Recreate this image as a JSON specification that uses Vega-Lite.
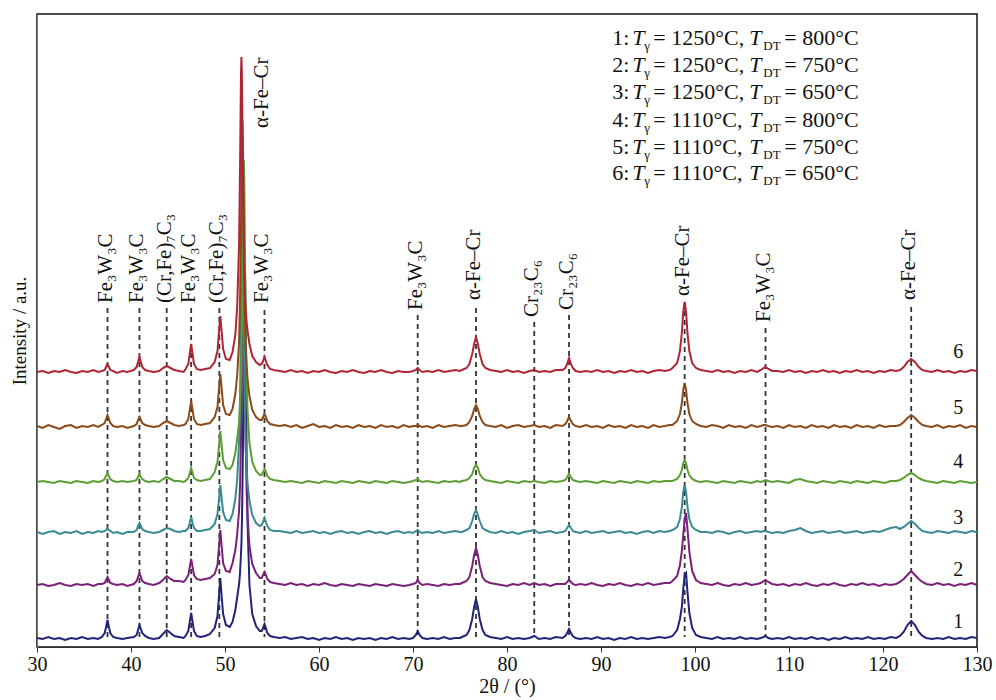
{
  "$schema": "https://vega.github.io/schema/vega-lite/v6.json",
  "width": 940,
  "height": 633,
  "autosize": {"type": "none"},
  "padding": {"left": 37, "top": 14, "right": 19, "bottom": 53},
  "background": "white",
  "config": {
    "view": {"stroke": "#111111", "strokeWidth": 1.5},
    "axis": {"labelFont": "Liberation Serif", "titleFont": "Liberation Serif", "grid": false}
  },
  "datasets": {
    "xrd": [
      {"x":30.0,"s1":9,"s2":62,"s3":115,"s4":165,"s5":221,"s6":275},
      {"x":30.6,"s1":8,"s2":63,"s3":113,"s4":166,"s5":219,"s6":276},
      {"x":31.2,"s1":10,"s2":61,"s3":115,"s4":165,"s5":222,"s6":274},
      {"x":31.8,"s1":8,"s2":62,"s3":116,"s4":164,"s5":220,"s6":276},
      {"x":32.4,"s1":9,"s2":64,"s3":113,"s4":166,"s5":218,"s6":275},
      {"x":33.0,"s1":7,"s2":62,"s3":115,"s4":165,"s5":221,"s6":277},
      {"x":33.6,"s1":9,"s2":61,"s3":114,"s4":164,"s5":222,"s6":275},
      {"x":34.2,"s1":8,"s2":63,"s3":116,"s4":166,"s5":219,"s6":274},
      {"x":34.8,"s1":10,"s2":62,"s3":113,"s4":165,"s5":221,"s6":276},
      {"x":35.4,"s1":8,"s2":63,"s3":115,"s4":164,"s5":220,"s6":275},
      {"x":36.0,"s1":9,"s2":61,"s3":114,"s4":166,"s5":222,"s6":277},
      {"x":36.5,"s1":8,"s2":63,"s3":116,"s4":165,"s5":220,"s6":275},
      {"x":36.9,"s1":10,"s2":63,"s3":115,"s4":166,"s5":222,"s6":276},
      {"x":37.2,"s1":14,"s2":64,"s3":116,"s4":168,"s5":224,"s6":277},
      {"x":37.35,"s1":20,"s2":67,"s3":117,"s4":171,"s5":228,"s6":280},
      {"x":37.5,"s1":27,"s2":70,"s3":119,"s4":174,"s5":232,"s6":283},
      {"x":37.65,"s1":20,"s2":67,"s3":117,"s4":171,"s5":228,"s6":280},
      {"x":37.8,"s1":14,"s2":64,"s3":116,"s4":168,"s5":224,"s6":277},
      {"x":38.1,"s1":10,"s2":63,"s3":114,"s4":166,"s5":221,"s6":276},
      {"x":38.5,"s1":9,"s2":62,"s3":115,"s4":165,"s5":220,"s6":274},
      {"x":39.1,"s1":8,"s2":63,"s3":113,"s4":166,"s5":221,"s6":276},
      {"x":39.6,"s1":9,"s2":61,"s3":115,"s4":165,"s5":219,"s6":275},
      {"x":40.3,"s1":10,"s2":63,"s3":115,"s4":166,"s5":221,"s6":277},
      {"x":40.6,"s1":12,"s2":66,"s3":117,"s4":167,"s5":223,"s6":280},
      {"x":40.75,"s1":17,"s2":70,"s3":121,"s4":170,"s5":227,"s6":285},
      {"x":40.9,"s1":22,"s2":74,"s3":124,"s4":173,"s5":230,"s6":290},
      {"x":41.05,"s1":18,"s2":70,"s3":121,"s4":170,"s5":227,"s6":285},
      {"x":41.2,"s1":14,"s2":66,"s3":118,"s4":168,"s5":224,"s6":280},
      {"x":41.5,"s1":11,"s2":64,"s3":116,"s4":166,"s5":222,"s6":277},
      {"x":41.9,"s1":9,"s2":63,"s3":115,"s4":165,"s5":221,"s6":276},
      {"x":42.4,"s1":8,"s2":62,"s3":114,"s4":166,"s5":220,"s6":275},
      {"x":43.0,"s1":9,"s2":64,"s3":115,"s4":165,"s5":221,"s6":276},
      {"x":43.4,"s1":13,"s2":67,"s3":117,"s4":168,"s5":224,"s6":279},
      {"x":43.8,"s1":17,"s2":71,"s3":119,"s4":170,"s5":226,"s6":281},
      {"x":44.2,"s1":14,"s2":68,"s3":118,"s4":168,"s5":224,"s6":279},
      {"x":44.6,"s1":11,"s2":66,"s3":116,"s4":166,"s5":222,"s6":277},
      {"x":45.1,"s1":10,"s2":66,"s3":115,"s4":166,"s5":221,"s6":276},
      {"x":45.6,"s1":9,"s2":65,"s3":116,"s4":165,"s5":222,"s6":275},
      {"x":45.8,"s1":11,"s2":67,"s3":116,"s4":166,"s5":223,"s6":278},
      {"x":46.1,"s1":16,"s2":72,"s3":119,"s4":169,"s5":228,"s6":283},
      {"x":46.25,"s1":25,"s2":80,"s3":124,"s4":174,"s5":237,"s6":293},
      {"x":46.4,"s1":34,"s2":88,"s3":130,"s4":179,"s5":246,"s6":303},
      {"x":46.55,"s1":25,"s2":80,"s3":124,"s4":174,"s5":237,"s6":293},
      {"x":46.7,"s1":16,"s2":72,"s3":119,"s4":169,"s5":228,"s6":283},
      {"x":47.0,"s1":11,"s2":68,"s3":116,"s4":167,"s5":223,"s6":278},
      {"x":47.4,"s1":10,"s2":67,"s3":116,"s4":166,"s5":222,"s6":277},
      {"x":47.9,"s1":11,"s2":68,"s3":117,"s4":167,"s5":223,"s6":278},
      {"x":48.4,"s1":13,"s2":69,"s3":118,"s4":168,"s5":224,"s6":279},
      {"x":48.9,"s1":19,"s2":73,"s3":123,"s4":175,"s5":230,"s6":285},
      {"x":49.2,"s1":31,"s2":82,"s3":133,"s4":185,"s5":240,"s6":296},
      {"x":49.35,"s1":50,"s2":99,"s3":147,"s4":200,"s5":257,"s6":314},
      {"x":49.5,"s1":69,"s2":117,"s3":162,"s4":216,"s5":273,"s6":331},
      {"x":49.65,"s1":50,"s2":100,"s3":148,"s4":201,"s5":258,"s6":315},
      {"x":49.8,"s1":33,"s2":84,"s3":135,"s4":187,"s5":242,"s6":298},
      {"x":50.1,"s1":22,"s2":76,"s3":127,"s4":179,"s5":233,"s6":288},
      {"x":50.5,"s1":20,"s2":75,"s3":126,"s4":178,"s5":232,"s6":287},
      {"x":50.8,"s1":25,"s2":84,"s3":133,"s4":182,"s5":238,"s6":295},
      {"x":51.1,"s1":37,"s2":97,"s3":148,"s4":194,"s5":253,"s6":312},
      {"x":51.3,"s1":50,"s2":113,"s3":168,"s4":208,"s5":272,"s6":341},
      {"x":51.5,"s1":63,"s2":137,"s3":206,"s4":225,"s5":306,"s6":404},
      {"x":51.6,"s1":74,"s2":161,"s3":249,"s4":243,"s5":346,"s6":479},
      {"x":51.7,"s1":93,"s2":207,"s3":327,"s4":270,"s5":417,"s6":573},
      {"x":51.75,"s1":104,"s2":242,"s3":379,"s4":291,"s5":465,"s6":590},
      {"x":51.8,"s1":125,"s2":294,"s3":425,"s4":324,"s5":507,"s6":570},
      {"x":51.85,"s1":154,"s2":356,"s3":447,"s4":368,"s5":527,"s6":526},
      {"x":51.9,"s1":193,"s2":408,"s3":425,"s4":422,"s5":507,"s6":474},
      {"x":51.95,"s1":246,"s2":432,"s3":379,"s4":466,"s5":465,"s6":431},
      {"x":52.0,"s1":310,"s2":408,"s3":324,"s4":487,"s5":414,"s6":399},
      {"x":52.05,"s1":363,"s2":356,"s3":278,"s4":466,"s5":372,"s6":375},
      {"x":52.1,"s1":388,"s2":294,"s3":244,"s4":422,"s5":341,"s6":358},
      {"x":52.15,"s1":363,"s2":242,"s3":219,"s4":368,"s5":318,"s6":346},
      {"x":52.2,"s1":310,"s2":204,"s3":201,"s4":324,"s5":301,"s6":338},
      {"x":52.3,"s1":193,"s2":156,"s3":179,"s4":267,"s5":282,"s6":325},
      {"x":52.4,"s1":124,"s2":131,"s3":164,"s4":237,"s5":268,"s6":316},
      {"x":52.6,"s1":62,"s2":101,"s3":146,"s4":204,"s5":251,"s6":303},
      {"x":52.9,"s1":33,"s2":83,"s3":132,"s4":185,"s5":237,"s6":291},
      {"x":53.3,"s1":21,"s2":74,"s3":124,"s4":176,"s5":230,"s6":285},
      {"x":53.7,"s1":16,"s2":69,"s3":121,"s4":172,"s5":227,"s6":282},
      {"x":53.9,"s1":16,"s2":69,"s3":122,"s4":172,"s5":227,"s6":283},
      {"x":54.05,"s1":19,"s2":72,"s3":125,"s4":175,"s5":230,"s6":286},
      {"x":54.2,"s1":23,"s2":75,"s3":129,"s4":178,"s5":233,"s6":290},
      {"x":54.35,"s1":19,"s2":72,"s3":125,"s4":175,"s5":230,"s6":286},
      {"x":54.5,"s1":14,"s2":68,"s3":121,"s4":171,"s5":226,"s6":282},
      {"x":54.8,"s1":11,"s2":65,"s3":117,"s4":168,"s5":223,"s6":278},
      {"x":55.2,"s1":10,"s2":64,"s3":116,"s4":167,"s5":222,"s6":277},
      {"x":55.8,"s1":9,"s2":63,"s3":116,"s4":166,"s5":221,"s6":276},
      {"x":56.4,"s1":10,"s2":62,"s3":115,"s4":165,"s5":222,"s6":275},
      {"x":57.0,"s1":8,"s2":64,"s3":114,"s4":166,"s5":220,"s6":277},
      {"x":57.6,"s1":9,"s2":62,"s3":116,"s4":165,"s5":222,"s6":275},
      {"x":58.2,"s1":10,"s2":63,"s3":114,"s4":164,"s5":219,"s6":276},
      {"x":58.8,"s1":8,"s2":61,"s3":115,"s4":166,"s5":221,"s6":274},
      {"x":59.4,"s1":9,"s2":63,"s3":116,"s4":165,"s5":223,"s6":276},
      {"x":60.0,"s1":7,"s2":62,"s3":114,"s4":164,"s5":220,"s6":275},
      {"x":60.6,"s1":9,"s2":64,"s3":115,"s4":166,"s5":221,"s6":277},
      {"x":61.2,"s1":8,"s2":62,"s3":113,"s4":165,"s5":219,"s6":275},
      {"x":61.8,"s1":10,"s2":61,"s3":115,"s4":164,"s5":222,"s6":274},
      {"x":62.4,"s1":8,"s2":63,"s3":116,"s4":166,"s5":220,"s6":276},
      {"x":63.0,"s1":9,"s2":62,"s3":114,"s4":165,"s5":221,"s6":275},
      {"x":63.6,"s1":7,"s2":61,"s3":115,"s4":164,"s5":219,"s6":277},
      {"x":64.2,"s1":9,"s2":63,"s3":113,"s4":166,"s5":222,"s6":275},
      {"x":64.8,"s1":8,"s2":62,"s3":115,"s4":165,"s5":220,"s6":274},
      {"x":65.4,"s1":9,"s2":61,"s3":116,"s4":164,"s5":221,"s6":276},
      {"x":66.0,"s1":7,"s2":63,"s3":114,"s4":166,"s5":219,"s6":275},
      {"x":66.6,"s1":9,"s2":62,"s3":115,"s4":165,"s5":222,"s6":277},
      {"x":67.2,"s1":8,"s2":61,"s3":113,"s4":164,"s5":220,"s6":275},
      {"x":67.8,"s1":10,"s2":63,"s3":115,"s4":166,"s5":221,"s6":274},
      {"x":68.4,"s1":8,"s2":62,"s3":116,"s4":165,"s5":219,"s6":276},
      {"x":69.0,"s1":9,"s2":61,"s3":114,"s4":164,"s5":222,"s6":275},
      {"x":69.6,"s1":8,"s2":62,"s3":115,"s4":165,"s5":220,"s6":275},
      {"x":70.0,"s1":9,"s2":63,"s3":114,"s4":166,"s5":221,"s6":276},
      {"x":70.3,"s1":12,"s2":64,"s3":116,"s4":167,"s5":221,"s6":277},
      {"x":70.5,"s1":16,"s2":67,"s3":117,"s4":168,"s5":222,"s6":279},
      {"x":70.7,"s1":12,"s2":64,"s3":115,"s4":166,"s5":221,"s6":277},
      {"x":71.0,"s1":9,"s2":62,"s3":114,"s4":165,"s5":220,"s6":275},
      {"x":71.5,"s1":8,"s2":63,"s3":115,"s4":166,"s5":221,"s6":276},
      {"x":72.1,"s1":9,"s2":62,"s3":114,"s4":165,"s5":219,"s6":275},
      {"x":72.7,"s1":8,"s2":61,"s3":116,"s4":164,"s5":222,"s6":277},
      {"x":73.3,"s1":10,"s2":63,"s3":114,"s4":166,"s5":220,"s6":275},
      {"x":73.9,"s1":8,"s2":62,"s3":115,"s4":165,"s5":221,"s6":276},
      {"x":74.5,"s1":9,"s2":63,"s3":116,"s4":166,"s5":222,"s6":277},
      {"x":75.0,"s1":9,"s2":63,"s3":115,"s4":165,"s5":221,"s6":276},
      {"x":75.2,"s1":10,"s2":64,"s3":115,"s4":166,"s5":221,"s6":277},
      {"x":75.7,"s1":12,"s2":66,"s3":117,"s4":167,"s5":222,"s6":279},
      {"x":76.0,"s1":17,"s2":70,"s3":119,"s4":169,"s5":225,"s6":283},
      {"x":76.3,"s1":28,"s2":81,"s3":126,"s4":173,"s5":231,"s6":293},
      {"x":76.5,"s1":40,"s2":92,"s3":133,"s4":179,"s5":238,"s6":303},
      {"x":76.7,"s1":48,"s2":99,"s3":137,"s4":182,"s5":242,"s6":310},
      {"x":76.9,"s1":40,"s2":92,"s3":132,"s4":179,"s5":238,"s6":303},
      {"x":77.1,"s1":28,"s2":81,"s3":126,"s4":173,"s5":231,"s6":293},
      {"x":77.4,"s1":17,"s2":70,"s3":119,"s4":169,"s5":225,"s6":283},
      {"x":77.7,"s1":12,"s2":66,"s3":117,"s4":167,"s5":222,"s6":279},
      {"x":78.2,"s1":10,"s2":64,"s3":115,"s4":166,"s5":221,"s6":277},
      {"x":78.8,"s1":9,"s2":63,"s3":114,"s4":165,"s5":220,"s6":276},
      {"x":79.4,"s1":8,"s2":62,"s3":116,"s4":164,"s5":222,"s6":275},
      {"x":80.0,"s1":10,"s2":61,"s3":114,"s4":166,"s5":219,"s6":277},
      {"x":80.6,"s1":8,"s2":63,"s3":115,"s4":165,"s5":221,"s6":275},
      {"x":81.2,"s1":9,"s2":62,"s3":113,"s4":164,"s5":222,"s6":276},
      {"x":81.8,"s1":8,"s2":64,"s3":115,"s4":166,"s5":220,"s6":274},
      {"x":82.4,"s1":9,"s2":62,"s3":116,"s4":165,"s5":221,"s6":276},
      {"x":82.9,"s1":11,"s2":64,"s3":117,"s4":166,"s5":222,"s6":277},
      {"x":83.4,"s1":8,"s2":62,"s3":114,"s4":165,"s5":220,"s6":275},
      {"x":84.0,"s1":9,"s2":63,"s3":115,"s4":164,"s5":221,"s6":276},
      {"x":84.6,"s1":8,"s2":61,"s3":116,"s4":166,"s5":219,"s6":275},
      {"x":85.2,"s1":10,"s2":63,"s3":114,"s4":165,"s5":222,"s6":277},
      {"x":85.9,"s1":9,"s2":63,"s3":115,"s4":166,"s5":221,"s6":277},
      {"x":86.2,"s1":11,"s2":63,"s3":116,"s4":167,"s5":223,"s6":279},
      {"x":86.4,"s1":14,"s2":65,"s3":119,"s4":170,"s5":226,"s6":283},
      {"x":86.6,"s1":18,"s2":67,"s3":122,"s4":173,"s5":230,"s6":289},
      {"x":86.8,"s1":14,"s2":65,"s3":119,"s4":170,"s5":226,"s6":283},
      {"x":87.0,"s1":11,"s2":63,"s3":116,"s4":167,"s5":223,"s6":279},
      {"x":87.3,"s1":9,"s2":62,"s3":115,"s4":166,"s5":221,"s6":276},
      {"x":87.8,"s1":8,"s2":63,"s3":114,"s4":165,"s5":220,"s6":275},
      {"x":88.4,"s1":9,"s2":62,"s3":116,"s4":166,"s5":222,"s6":276},
      {"x":89.0,"s1":8,"s2":64,"s3":114,"s4":165,"s5":220,"s6":275},
      {"x":89.6,"s1":10,"s2":62,"s3":115,"s4":164,"s5":221,"s6":277},
      {"x":90.2,"s1":8,"s2":61,"s3":116,"s4":166,"s5":219,"s6":275},
      {"x":90.8,"s1":9,"s2":63,"s3":114,"s4":165,"s5":222,"s6":276},
      {"x":91.4,"s1":7,"s2":62,"s3":115,"s4":164,"s5":220,"s6":274},
      {"x":92.0,"s1":9,"s2":64,"s3":116,"s4":166,"s5":221,"s6":276},
      {"x":92.6,"s1":8,"s2":62,"s3":114,"s4":165,"s5":219,"s6":275},
      {"x":93.2,"s1":10,"s2":61,"s3":115,"s4":164,"s5":222,"s6":277},
      {"x":93.8,"s1":8,"s2":63,"s3":113,"s4":166,"s5":220,"s6":275},
      {"x":94.4,"s1":9,"s2":62,"s3":115,"s4":165,"s5":221,"s6":276},
      {"x":95.0,"s1":8,"s2":64,"s3":116,"s4":164,"s5":219,"s6":274},
      {"x":95.6,"s1":9,"s2":62,"s3":114,"s4":166,"s5":222,"s6":276},
      {"x":96.2,"s1":10,"s2":63,"s3":116,"s4":165,"s5":220,"s6":277},
      {"x":96.8,"s1":9,"s2":64,"s3":115,"s4":166,"s5":221,"s6":276},
      {"x":97.3,"s1":10,"s2":64,"s3":116,"s4":166,"s5":222,"s6":277},
      {"x":97.6,"s1":11,"s2":66,"s3":117,"s4":166,"s5":222,"s6":279},
      {"x":98.1,"s1":17,"s2":71,"s3":120,"s4":168,"s5":226,"s6":284},
      {"x":98.4,"s1":28,"s2":82,"s3":128,"s4":172,"s5":233,"s6":296},
      {"x":98.6,"s1":40,"s2":96,"s3":140,"s4":177,"s5":244,"s6":314},
      {"x":98.75,"s1":58,"s2":112,"s3":155,"s4":184,"s5":257,"s6":335},
      {"x":98.9,"s1":72,"s2":128,"s3":162,"s4":187,"s5":264,"s6":345},
      {"x":99.05,"s1":74,"s2":134,"s3":155,"s4":184,"s5":257,"s6":335},
      {"x":99.2,"s1":55,"s2":118,"s3":140,"s4":177,"s5":244,"s6":314},
      {"x":99.4,"s1":34,"s2":95,"s3":128,"s4":172,"s5":233,"s6":296},
      {"x":99.7,"s1":19,"s2":76,"s3":120,"s4":168,"s5":226,"s6":284},
      {"x":100.1,"s1":12,"s2":67,"s3":117,"s4":166,"s5":223,"s6":279},
      {"x":100.6,"s1":10,"s2":64,"s3":115,"s4":165,"s5":221,"s6":277},
      {"x":101.2,"s1":9,"s2":63,"s3":115,"s4":166,"s5":220,"s6":276},
      {"x":101.8,"s1":8,"s2":62,"s3":114,"s4":165,"s5":222,"s6":275},
      {"x":102.4,"s1":10,"s2":64,"s3":116,"s4":164,"s5":221,"s6":277},
      {"x":103.0,"s1":8,"s2":62,"s3":115,"s4":166,"s5":219,"s6":275},
      {"x":103.6,"s1":9,"s2":61,"s3":113,"s4":165,"s5":222,"s6":276},
      {"x":104.2,"s1":8,"s2":63,"s3":115,"s4":164,"s5":220,"s6":274},
      {"x":104.8,"s1":10,"s2":62,"s3":116,"s4":166,"s5":221,"s6":276},
      {"x":105.4,"s1":8,"s2":64,"s3":114,"s4":165,"s5":219,"s6":275},
      {"x":106.0,"s1":9,"s2":62,"s3":115,"s4":164,"s5":222,"s6":277},
      {"x":106.6,"s1":8,"s2":63,"s3":116,"s4":166,"s5":220,"s6":275},
      {"x":107.0,"s1":9,"s2":64,"s3":115,"s4":165,"s5":221,"s6":277},
      {"x":107.3,"s1":10,"s2":66,"s3":116,"s4":166,"s5":222,"s6":279},
      {"x":107.5,"s1":11,"s2":67,"s3":116,"s4":167,"s5":222,"s6":280},
      {"x":107.8,"s1":9,"s2":65,"s3":115,"s4":166,"s5":221,"s6":278},
      {"x":108.2,"s1":8,"s2":63,"s3":114,"s4":165,"s5":220,"s6":276},
      {"x":108.8,"s1":9,"s2":62,"s3":115,"s4":166,"s5":221,"s6":276},
      {"x":109.4,"s1":8,"s2":63,"s3":114,"s4":165,"s5":219,"s6":275},
      {"x":110.0,"s1":10,"s2":61,"s3":116,"s4":164,"s5":222,"s6":277},
      {"x":110.6,"s1":8,"s2":63,"s3":117,"s4":167,"s5":220,"s6":275},
      {"x":111.2,"s1":9,"s2":62,"s3":119,"s4":168,"s5":221,"s6":276},
      {"x":111.8,"s1":8,"s2":64,"s3":116,"s4":166,"s5":219,"s6":274},
      {"x":112.4,"s1":10,"s2":62,"s3":114,"s4":165,"s5":222,"s6":276},
      {"x":113.0,"s1":8,"s2":61,"s3":115,"s4":164,"s5":220,"s6":275},
      {"x":113.6,"s1":9,"s2":63,"s3":116,"s4":166,"s5":221,"s6":277},
      {"x":114.2,"s1":7,"s2":62,"s3":114,"s4":165,"s5":219,"s6":275},
      {"x":114.8,"s1":9,"s2":64,"s3":115,"s4":164,"s5":222,"s6":276},
      {"x":115.4,"s1":8,"s2":62,"s3":116,"s4":166,"s5":220,"s6":274},
      {"x":116.0,"s1":10,"s2":61,"s3":114,"s4":165,"s5":221,"s6":276},
      {"x":116.6,"s1":8,"s2":63,"s3":115,"s4":164,"s5":219,"s6":275},
      {"x":117.2,"s1":9,"s2":62,"s3":116,"s4":166,"s5":222,"s6":277},
      {"x":117.8,"s1":8,"s2":64,"s3":114,"s4":165,"s5":220,"s6":275},
      {"x":118.4,"s1":10,"s2":62,"s3":115,"s4":164,"s5":221,"s6":276},
      {"x":119.0,"s1":8,"s2":63,"s3":116,"s4":166,"s5":219,"s6":274},
      {"x":119.6,"s1":9,"s2":61,"s3":115,"s4":165,"s5":222,"s6":276},
      {"x":120.2,"s1":8,"s2":63,"s3":117,"s4":164,"s5":220,"s6":275},
      {"x":120.8,"s1":10,"s2":62,"s3":119,"s4":166,"s5":221,"s6":277},
      {"x":121.4,"s1":9,"s2":63,"s3":120,"s4":166,"s5":221,"s6":276},
      {"x":121.8,"s1":11,"s2":65,"s3":118,"s4":167,"s5":222,"s6":277},
      {"x":122.2,"s1":15,"s2":68,"s3":120,"s4":169,"s5":225,"s6":280},
      {"x":122.6,"s1":22,"s2":72,"s3":123,"s4":172,"s5":229,"s6":285},
      {"x":123.0,"s1":26,"s2":76,"s3":126,"s4":174,"s5":232,"s6":288},
      {"x":123.4,"s1":22,"s2":72,"s3":123,"s4":172,"s5":229,"s6":285},
      {"x":123.8,"s1":15,"s2":68,"s3":119,"s4":169,"s5":225,"s6":280},
      {"x":124.2,"s1":11,"s2":65,"s3":116,"s4":167,"s5":222,"s6":277},
      {"x":124.6,"s1":9,"s2":63,"s3":115,"s4":166,"s5":221,"s6":276},
      {"x":125.2,"s1":8,"s2":62,"s3":114,"s4":165,"s5":220,"s6":275},
      {"x":125.8,"s1":9,"s2":64,"s3":116,"s4":164,"s5":222,"s6":277},
      {"x":126.4,"s1":8,"s2":62,"s3":115,"s4":166,"s5":219,"s6":275},
      {"x":127.0,"s1":10,"s2":63,"s3":114,"s4":165,"s5":221,"s6":276},
      {"x":127.6,"s1":8,"s2":61,"s3":116,"s4":164,"s5":220,"s6":274},
      {"x":128.2,"s1":9,"s2":63,"s3":115,"s4":166,"s5":222,"s6":276},
      {"x":128.8,"s1":8,"s2":62,"s3":114,"s4":165,"s5":219,"s6":275},
      {"x":129.4,"s1":10,"s2":64,"s3":116,"s4":164,"s5":221,"s6":277},
      {"x":130.0,"s1":9,"s2":62,"s3":115,"s4":165,"s5":220,"s6":276}
    ],
    "lines": [
      {"x":37.5,"y":339},{"x":40.9,"y":339},{"x":43.8,"y":339},{"x":46.4,"y":339},
      {"x":49.4,"y":339},{"x":54.2,"y":337},{"x":70.5,"y":332},{"x":76.7,"y":339},
      {"x":82.9,"y":325},{"x":86.6,"y":332},{"x":98.9,"y":345},{"x":107.5,"y":319},
      {"x":123.0,"y":340}
    ],
    "labels": [
      {"x":37.5,"y":344,"label":"Fe₃W₃C"},
      {"x":40.9,"y":344,"label":"Fe₃W₃C"},
      {"x":43.8,"y":344,"label":"(Cr,Fe)₇C₃"},
      {"x":46.4,"y":344,"label":"Fe₃W₃C"},
      {"x":49.4,"y":344,"label":"(Cr,Fe)₇C₃"},
      {"x":54.2,"y":519,"label":"α-Fe–Cr"},
      {"x":54.2,"y":344,"label":"Fe₃W₃C"},
      {"x":70.5,"y":337,"label":"Fe₃W₃C"},
      {"x":76.7,"y":347,"label":"α-Fe–Cr"},
      {"x":82.9,"y":330,"label":"Cr₂₃C₆"},
      {"x":86.6,"y":337,"label":"Cr₂₃C₆"},
      {"x":98.9,"y":351,"label":"α-Fe–Cr"},
      {"x":107.5,"y":325,"label":"Fe₃W₃C"},
      {"x":123.0,"y":347,"label":"α-Fe–Cr"}
    ],
    "nums": [
      {"n":"1","x":128,"y":25},{"n":"2","x":128,"y":77},{"n":"3","x":128,"y":129},
      {"n":"4","x":128,"y":185},{"n":"5","x":128,"y":239},{"n":"6","x":128,"y":295}
    ],
    "legend": [
      {"n":"1:","tg":"= 1250°C,","tdt":"= 800°C","x":91.2,"y":602},
      {"n":"2:","tg":"= 1250°C,","tdt":"= 750°C","x":91.2,"y":575},
      {"n":"3:","tg":"= 1250°C,","tdt":"= 650°C","x":91.2,"y":548},
      {"n":"4:","tg":"= 1110°C,","tdt":"= 800°C","x":91.2,"y":520},
      {"n":"5:","tg":"= 1110°C,","tdt":"= 750°C","x":91.2,"y":493},
      {"n":"6:","tg":"= 1110°C,","tdt":"= 650°C","x":91.2,"y":467}
    ]
  },
  "encoding": {
    "x": {"field": "x", "type": "quantitative", "scale": {"domain": [30, 130], "nice": false, "zero": false},
      "axis": {"values": [30,40,50,60,70,80,90,100,110,120,130], "title": "2θ / (°)", "labelFontSize": 20, "titleFontSize": 20,
        "titleFontWeight": "normal", "labelColor": "#111111", "titleColor": "#111111", "domainColor": "#333333",
        "tickColor": "#333333", "tickSize": 5, "labelPadding": 2, "titlePadding": 2, "labelFlush": false, "grid": false}},
    "y": {"field": "y", "type": "quantitative", "scale": {"domain": [0, 633], "nice": false, "zero": false},
      "axis": {"title": "Intensity / a.u.", "labels": false, "ticks": false, "grid": false, "domainColor": "#777777",
        "titleFontSize": 19, "titleFontWeight": "normal", "titleColor": "#111111", "titlePadding": 8}}
  },
  "layer": [
    {
      "data": {"name": "lines"},
      "mark": {"type": "rule", "strokeDash": [5, 4], "strokeWidth": 1.8, "color": "#333333"},
      "encoding": {"y2": {"datum": 10}}
    },
    {
      "data": {"name": "labels"},
      "mark": {"type": "text", "angle": 270, "align": "left", "baseline": "alphabetic", "dy": 4, "font": "Liberation Serif", "fontSize": 21, "color": "#111111"},
      "encoding": {"text": {"field": "label"}}
    },
    {
      "data": {"name": "xrd"},
      "transform": [{"fold": ["s1"], "as": ["trace", "y"]}],
      "mark": {"type": "line", "color": "#23237a", "strokeWidth": 2}
    },
    {
      "data": {"name": "xrd"},
      "transform": [{"fold": ["s2"], "as": ["trace", "y"]}],
      "mark": {"type": "line", "color": "#7b2079", "strokeWidth": 2}
    },
    {
      "data": {"name": "xrd"},
      "transform": [{"fold": ["s3"], "as": ["trace", "y"]}],
      "mark": {"type": "line", "color": "#3a8a92", "strokeWidth": 2}
    },
    {
      "data": {"name": "xrd"},
      "transform": [{"fold": ["s4"], "as": ["trace", "y"]}],
      "mark": {"type": "line", "color": "#5c9e34", "strokeWidth": 2}
    },
    {
      "data": {"name": "xrd"},
      "transform": [{"fold": ["s5"], "as": ["trace", "y"]}],
      "mark": {"type": "line", "color": "#8a4a1a", "strokeWidth": 2}
    },
    {
      "data": {"name": "xrd"},
      "transform": [{"fold": ["s6"], "as": ["trace", "y"]}],
      "mark": {"type": "line", "color": "#b02535", "strokeWidth": 2}
    },
    {
      "data": {"name": "nums"},
      "mark": {"type": "text", "align": "center", "baseline": "middle", "font": "Liberation Serif", "fontSize": 20, "color": "#111111"},
      "encoding": {"text": {"field": "n"}}
    },
    {
      "data": {"name": "legend"},
      "layer": [
        {"mark": {"type": "text", "align": "left", "baseline": "alphabetic", "font": "Liberation Serif", "fontSize": 22, "color": "#111111"},
         "encoding": {"text": {"field": "n"}}},
        {"mark": {"type": "text", "align": "left", "baseline": "alphabetic", "font": "Liberation Serif", "fontStyle": "italic", "fontSize": 22, "color": "#111111", "dx": 20},
         "encoding": {"text": {"value": "T"}}},
        {"mark": {"type": "text", "align": "left", "baseline": "alphabetic", "font": "Liberation Serif", "fontSize": 13, "color": "#111111", "dx": 32, "dy": 5},
         "encoding": {"text": {"value": "γ"}}},
        {"mark": {"type": "text", "align": "left", "baseline": "alphabetic", "font": "Liberation Serif", "fontSize": 22, "color": "#111111", "dx": 41},
         "encoding": {"text": {"field": "tg"}}},
        {"mark": {"type": "text", "align": "left", "baseline": "alphabetic", "font": "Liberation Serif", "fontStyle": "italic", "fontSize": 22, "color": "#111111", "dx": 137},
         "encoding": {"text": {"value": "T"}}},
        {"mark": {"type": "text", "align": "left", "baseline": "alphabetic", "font": "Liberation Serif", "fontSize": 13, "color": "#111111", "dx": 151, "dy": 5},
         "encoding": {"text": {"value": "DT"}}},
        {"mark": {"type": "text", "align": "left", "baseline": "alphabetic", "font": "Liberation Serif", "fontSize": 22, "color": "#111111", "dx": 172},
         "encoding": {"text": {"field": "tdt"}}}
      ]
    }
  ]
}
